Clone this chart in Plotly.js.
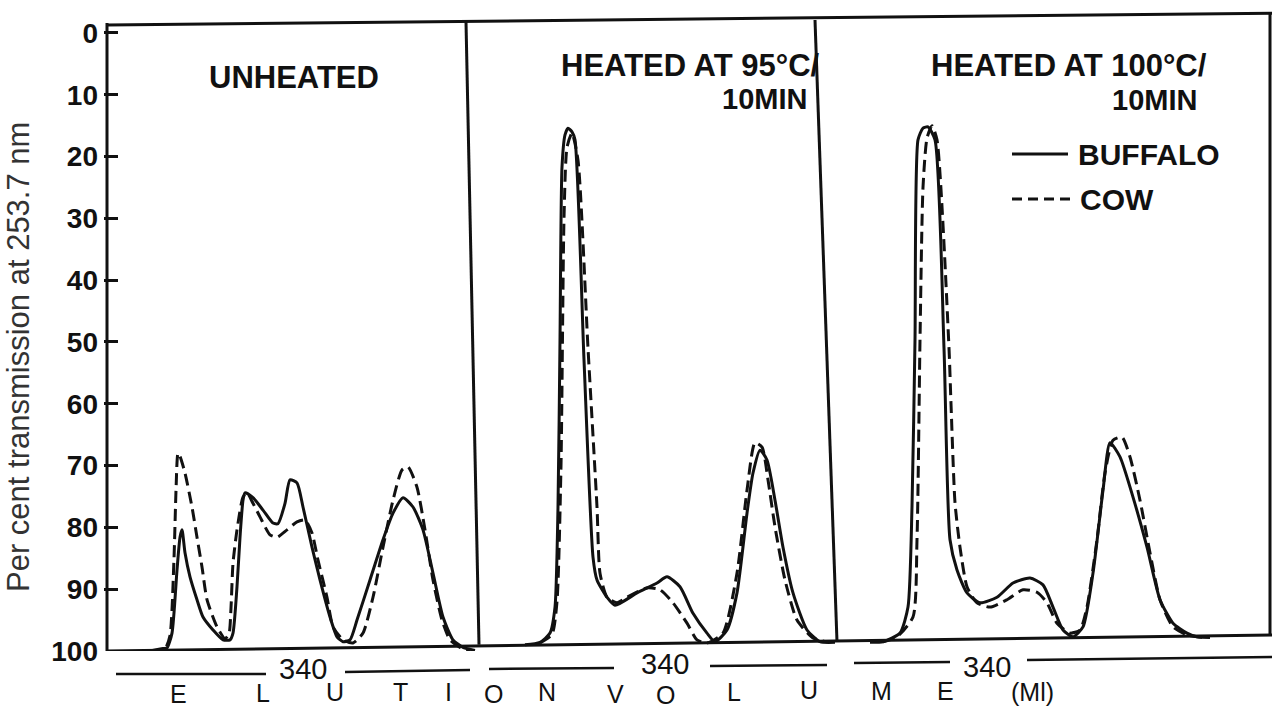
<!DOCTYPE html>
<html>
<head>
<meta charset="utf-8">
<script src="https://cdn.plot.ly/plotly-3.0.1.min.js"></script>
<style>
  html, body { margin: 0; padding: 0; background: #fff; }
  #chart { width: 1272px; height: 711px; }
</style>
</head>
<body>
<div id="chart"></div>
<script>
// Gel-filtration elution profiles: per cent transmission at 253.7 nm
// versus elution volume, buffalo (solid) and cow (dashed) milk.

// ---- Unheated ----
const unheatedBuffaloVol = [43, 56, 60, 65, 70, 73, 75, 78, 83, 90, 96, 106, 116, 123, 126, 130, 133, 136, 138, 146, 156, 166, 171, 178, 183, 190, 196, 205, 213, 223, 230, 236, 243, 250, 263, 276, 286, 296, 306, 316, 326, 336, 346, 356, 368];
const unheatedBuffaloT   = [100, 99.6, 99.5, 97.1, 86.9, 81.6, 80.4, 84.1, 88.0, 91.7, 94.5, 96.6, 98.2, 98.2, 97.1, 89.6, 81.6, 75.6, 74.4, 75.2, 77.2, 79.3, 79.4, 76.1, 72.3, 72.8, 76.7, 83.2, 88.5, 94.5, 97.7, 98.5, 98.2, 95.0, 88.5, 82.0, 77.7, 75.2, 76.7, 80.4, 87.4, 94.5, 98.2, 99.4, 99.9];
const unheatedCowVol     = [43, 58, 63, 67, 69, 71, 73, 78, 85, 90, 95, 100, 110, 118, 122, 124, 126, 130, 136, 140, 146, 153, 163, 170, 180, 190, 198, 205, 211, 220, 226, 236, 246, 256, 266, 276, 286, 295, 301, 310, 318, 326, 335, 343, 353, 363];
const unheatedCowT       = [100, 99.6, 97.5, 85.0, 74.0, 68.0, 68.5, 71.2, 76.7, 81.6, 86.4, 91.7, 96.1, 98.0, 97.2, 93.0, 85.8, 80.4, 75.1, 74.4, 76.1, 78.3, 81.2, 81.6, 80.4, 79.1, 78.8, 80.9, 85.3, 91.3, 96.1, 98.2, 98.7, 97.1, 91.3, 83.2, 75.6, 70.7, 70.2, 73.5, 80.4, 88.5, 95.0, 98.2, 99.4, 99.9];

// ---- Heated at 95 °C / 10 min ----
const heated95BuffaloVol = [418, 433, 443, 448, 451, 453, 455, 458, 461, 465, 468, 477, 486, 490, 500, 508, 530, 550, 560, 573, 586, 600, 608, 620, 630, 640, 646, 653, 660, 668, 676, 686, 700, 713, 728];
const heated95BuffaloT   = [99.0, 98.6, 97.1, 92.9, 76.7, 49.7, 21.7, 16.5, 15.4, 16.0, 17.3, 52.9, 84.8, 88.5, 91.3, 92.6, 90.6, 89.0, 88.0, 89.6, 93.9, 97.1, 98.5, 96.6, 90.6, 77.7, 71.2, 67.5, 69.1, 75.6, 83.2, 90.6, 96.6, 98.5, 98.6];
const heated95CowVol     = [433, 445, 450, 454, 457, 460, 465, 471, 481, 490, 493, 500, 510, 520, 540, 553, 566, 580, 590, 600, 616, 630, 640, 648, 655, 661, 668, 678, 690, 706, 720];
const heated95CowT       = [98.7, 97.3, 92.0, 70.0, 30.0, 18.5, 16.2, 20.6, 51.0, 76.7, 87.4, 91.3, 92.2, 91.3, 89.8, 90.1, 92.2, 95.5, 98.2, 98.7, 97.1, 87.4, 74.0, 66.3, 67.0, 72.3, 79.9, 88.5, 95.0, 97.9, 98.5];

// ---- Heated at 100 °C / 10 min ----
const heated100BuffaloVol = [763, 776, 793, 801, 805, 808, 811, 816, 821, 828, 837, 843, 850, 860, 873, 890, 906, 923, 936, 946, 956, 966, 976, 986, 996, 1003, 1013, 1026, 1040, 1053, 1066, 1080, 1090, 1103];
const heated100BuffaloT   = [98.6, 98.5, 97.1, 92.9, 76.7, 49.7, 17.3, 15.4, 15.2, 17.3, 51.0, 82.0, 86.9, 90.6, 92.2, 91.3, 89.0, 88.2, 89.3, 92.9, 96.6, 97.7, 96.1, 87.4, 74.0, 66.3, 68.6, 75.1, 83.2, 91.7, 95.5, 97.1, 97.7, 97.8];
const heated100CowVol     = [776, 790, 806, 810, 813, 816, 820, 825, 830, 842, 844, 848, 853, 860, 870, 883, 900, 916, 930, 940, 950, 963, 973, 980, 990, 998, 1006, 1015, 1023, 1033, 1043, 1053, 1066, 1080, 1090, 1100];
const heated100CowT       = [98.5, 97.7, 94.5, 82.0, 49.7, 25.0, 17.0, 15.0, 17.3, 51.0, 60.0, 76.0, 83.2, 89.6, 92.2, 92.9, 91.7, 90.1, 90.5, 92.2, 95.5, 97.1, 96.6, 92.9, 82.0, 71.2, 65.9, 65.4, 68.6, 75.6, 84.1, 91.7, 96.1, 97.4, 97.7, 97.8];

// ---- Axis and text ----
const yTicks = [0, 10, 20, 30, 40, 50, 60, 70, 80, 90, 100];
const yTitle = 'Per cent transmission at 253.7 nm';
const panelTitles = ['UNHEATED', 'HEATED AT 95°C/', 'HEATED AT 100°C/'];
const panelSubtitle = '10MIN';
const seriesNames = ['BUFFALO', 'COW'];
const sectionLabel = '340';
const axisLetters = ['E', 'L', 'U', 'T', 'I', 'O', 'N', 'V', 'O', 'L', 'U', 'M', 'E', '(Ml)'];

// ---- Drawing ----
const INK = '#111';
const LW = 3;
const DASH = '12px,6px';
const LETTER_FONT = 'Liberation Sans, Arial, Helvetica, sans-serif';

// pixel -> paper helpers for page furniture outside the data area
const PLOT_L = 104, PLOT_W = 1168, PLOT_B = 651, PLOT_H = 641;
const X = px => (px - PLOT_L) / PLOT_W;
const Y = py => (PLOT_B - py) / PLOT_H;

function curve(x, y, dashed) {
  return {
    type: 'scatter', mode: 'lines', x: x, y: y,
    line: { color: INK, width: LW, dash: dashed ? DASH : 'solid', shape: 'spline', smoothing: 0.6 },
    hoverinfo: 'skip', showlegend: false
  };
}

const traces = [
  curve(unheatedCowVol, unheatedCowT, true),
  curve(unheatedBuffaloVol, unheatedBuffaloT, false),
  curve(heated95CowVol, heated95CowT, true),
  curve(heated95BuffaloVol, heated95BuffaloT, false),
  curve(heated100CowVol, heated100CowT, true),
  curve(heated100BuffaloVol, heated100BuffaloT, false)
];

function seg(x0, y0, x1, y1, ref, extra) {
  return Object.assign({
    type: 'line', xref: ref, yref: ref === 'paper' ? 'paper' : 'y',
    x0: x0, y0: y0, x1: x1, y1: y1,
    line: { color: INK, width: LW }, layer: 'above'
  }, extra || {});
}

const RULER = { line: { color: INK, width: 2.5 } };
const shapes = [
  // frame and panel dividers (data coordinates)
  seg(0, -1.3, 1165, -3.2, 'x'),
  seg(0, 100, 1165, 97.4, 'x'),
  seg(0, -1.6, 0, 100, 'x'),
  seg(359, -1.8, 372, 99.0, 'x'),
  seg(708, -2.1, 730, 98.5, 'x'),
  seg(1163, -3.2, 1163, 97.4, 'x'),
  // elution-volume rulers under the axis
  seg(X(116), Y(674), X(266), Y(674), 'paper', RULER),
  seg(X(345), Y(672), X(470), Y(670), 'paper', RULER),
  seg(X(489), Y(669), X(614), Y(668), 'paper', RULER),
  seg(X(710), Y(666), X(827), Y(665), 'paper', RULER),
  seg(X(854), Y(663), X(950), Y(662), 'paper', RULER),
  seg(X(1027), Y(660), X(1272), Y(657), 'paper', RULER),
  // key
  seg(X(1012), Y(154), X(1068), Y(154), 'paper'),
  seg(X(1012), Y(199), X(1075), Y(199), 'paper', { line: { color: INK, width: LW, dash: '10px,6px' } })
];

function label(text, px, py, opts) {
  return Object.assign({
    text: text, xref: 'paper', yref: 'paper', x: X(px), y: Y(py),
    xanchor: 'center', yanchor: 'middle', showarrow: false, borderpad: 0,
    font: { family: LETTER_FONT, size: 31, color: INK, weight: 'bold' }
  }, opts || {});
}

const SUB = { xanchor: 'right', font: { family: LETTER_FONT, size: 29, color: INK, weight: 'bold' } };
const KEY = { xanchor: 'left', font: { family: LETTER_FONT, size: 30, color: INK, weight: 'bold' } };
const NUM = { font: { family: LETTER_FONT, size: 29, color: INK } };

const letterPos = [[178, 694], [263, 693], [335, 692], [400, 692], [448, 692], [493, 694], [547, 692],
                   [615, 694], [665, 695], [734, 692], [809, 690], [881, 691], [945, 691], [1032, 692]];

const annotations = [
  label(panelTitles[0], 294, 77),
  label(panelTitles[1], 821, 66, { xanchor: 'right' }),
  label(panelSubtitle, 808, 99, SUB),
  label(panelTitles[2], 1208, 66, { xanchor: 'right' }),
  label(panelSubtitle, 1198, 100, SUB),
  label(seriesNames[0], 1077, 155, KEY),
  label(seriesNames[1], 1079, 200, KEY),
  label(yTitle, 18, 357, { textangle: -90, font: { family: 'Liberation Sans, Arial, sans-serif', size: 31, color: '#333' } }),
  label(sectionLabel, 303, 669, NUM),
  label(sectionLabel, 665, 664, NUM),
  label(sectionLabel, 987, 667, NUM)
];
axisLetters.forEach((ch, i) => {
  annotations.push(label(ch, letterPos[i][0], letterPos[i][1], { font: { family: LETTER_FONT, size: 25, color: INK } }));
});

const layout = {
  width: 1272, height: 711,
  margin: { l: PLOT_L, r: 0, t: 10, b: 711 - PLOT_B },
  paper_bgcolor: '#fff', plot_bgcolor: '#fff',
  showlegend: false,
  xaxis: { range: [-3, 1165], visible: false, fixedrange: true },
  yaxis: {
    range: [100, -3.72], tickmode: 'array', tickvals: yTicks, ticktext: yTicks.map(String),
    ticks: 'inside', ticklen: 14, tickwidth: 3, tickcolor: INK,
    showgrid: false, zeroline: false, showline: false, ticklabelstandoff: 5,
    tickfont: { family: LETTER_FONT, size: 28, color: INK, weight: 'bold' },
    fixedrange: true
  },
  shapes: shapes,
  annotations: annotations
};

Plotly.newPlot('chart', traces, layout, { staticPlot: true, displayModeBar: false });
</script>
</body>
</html>
